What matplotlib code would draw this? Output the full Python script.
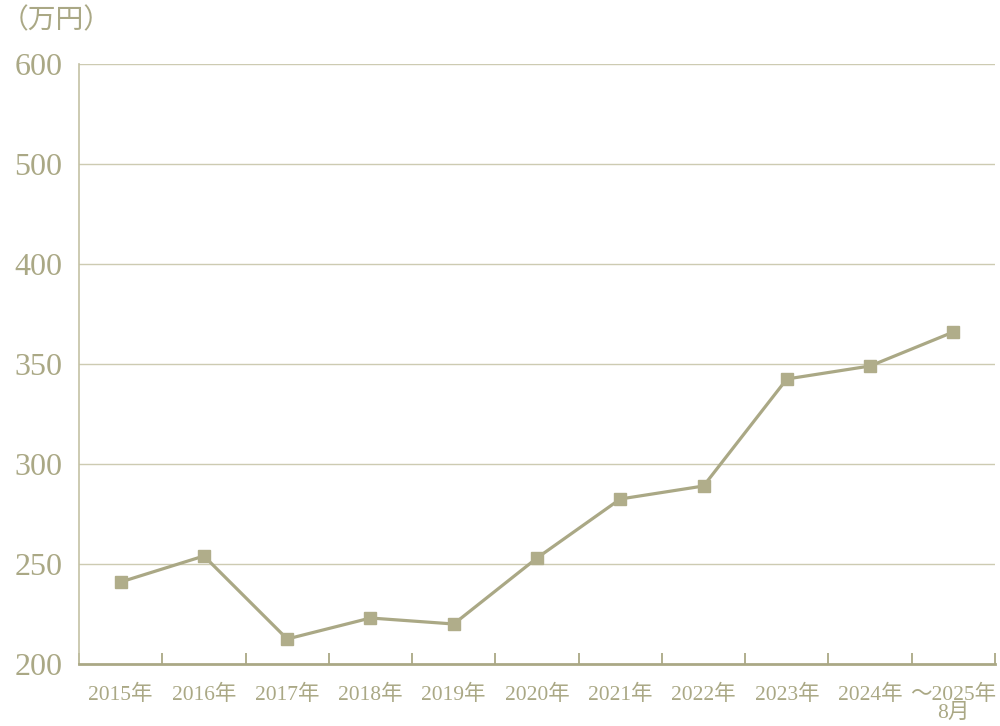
import numpy as np
import matplotlib
matplotlib.use('Agg')
import matplotlib.pyplot as plt

years = ['2015年', '2016年', '2017年', '2018年', '2019年', '2020年',
         '2021年', '2022年', '2023年', '2024年', '～2025年\n8月']
values = [241, 254, 212.5, 223, 220, 253, 282.5, 289, 342.5, 349, 366]
yticks = [200, 250, 300, 350, 400, 500, 600]

text_c = '#aaa885'
line_c = '#aaa885'
grid_c = '#cdcbb2'
fam = ['Liberation Serif', 'Noto Sans CJK JP', 'DejaVu Sans']


def fwd(v):
    v = np.asarray(v, dtype=float)
    return np.where(v <= 400, (v - 200) / 50.0, 4 + (v - 400) / 100.0)


def inv(p):
    p = np.asarray(p, dtype=float)
    return np.where(p <= 4, 200 + p * 50.0, 400 + (p - 4) * 100.0)


fig = plt.figure(figsize=(10, 7.26), dpi=100)
ax = fig.add_axes([0.079, 1 - 664 / 726, 0.916, 600 / 726])
ax.set_yscale('function', functions=(fwd, inv))
ax.set_ylim(200, 600)
ax.set_xlim(-0.5, len(years) - 0.5)

x = np.arange(len(years))
ax.plot(x, values, color=line_c, lw=2.3, marker='s', ms=8.5,
        mfc='#b0ad8a', mec='#b0ad8a', zorder=3, clip_on=False)

# horizontal grid
for t in yticks[1:]:
    ax.axhline(t, color=grid_c, lw=1, zorder=1)

ax.set_yticks(yticks)
ax.set_yticklabels([str(t) for t in yticks], family=fam, fontsize=23, color=text_c)
ax.yaxis.set_minor_locator(plt.NullLocator())
ax.tick_params(axis='y', length=0, pad=12)

ax.set_xticks(x)
ax.set_xticklabels(years, family=fam, fontsize=15.5, color=text_c, linespacing=0.9)
ax.set_xticks(np.arange(-0.5, len(years)), minor=True)
ax.tick_params(axis='x', which='major', length=0, pad=15)
ax.tick_params(axis='x', which='minor', direction='in', length=8, width=1.3, color=line_c)

for s in ['top', 'right']:
    ax.spines[s].set_visible(False)
ax.spines['left'].set_color('#c3c1a4')
ax.spines['left'].set_linewidth(1.2)
ax.spines['bottom'].set_color(line_c)
ax.spines['bottom'].set_linewidth(2)

fig.text(0.001, 1 - 20 / 726, '（万円）', family=['Noto Sans CJK JP', 'DejaVu Sans'],
         fontsize=20, color=text_c, va='center', ha='left')

fig.savefig('out.png', dpi=100)
